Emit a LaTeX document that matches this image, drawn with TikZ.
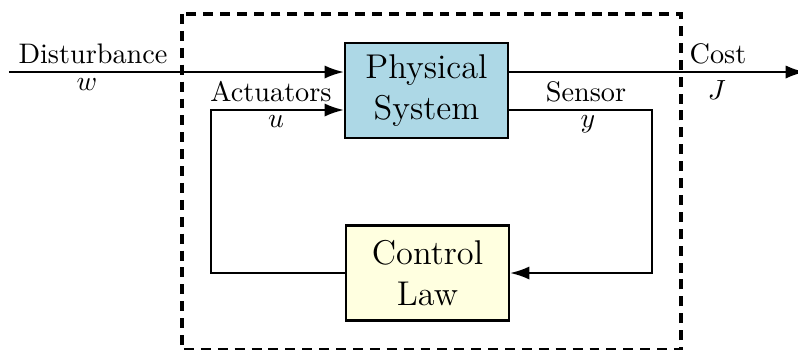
\documentclass[tikz,border=0pt]{standalone}
\usetikzlibrary{arrows.meta}
\definecolor{plantblue}{HTML}{ADD8E6}
\definecolor{lawyellow}{HTML}{FFFFE0}
\tikzset{
  blockbox/.style={draw, line width=0.8pt, minimum width=163*0.361pt, minimum height=95*0.361pt,
    inner sep=0pt, align=center, font=\fontsize{12.4}{15}\selectfont},
  sig/.style={line width=0.8pt, -{Latex[length=7pt,width=4.8pt]}},
  lbl/.style={anchor=base, inner sep=0pt, font=\fontsize{10.2}{12}\selectfont},
  frame/.style={line width=1.2pt, dash pattern=on 3.6pt off 2.5pt}
}
\begin{document}
\begin{tikzpicture}[x=0.361pt, y=-0.361pt]
  \useasboundingbox (0,0) rectangle (798,349);

  % controller boundary
  \draw[frame] (182,14) rectangle (681,350);

  % blocks
  \node[blockbox, fill=plantblue] (plant) at (426.5,90.5) {Physical\\System};
  \node[blockbox, fill=lawyellow] (law) at (427.5,273) {Control\\Law};

  % signal corners
  \coordinate (din) at (9,72);
  \coordinate (jout) at (805,72);
  \coordinate (ucorner) at (211,110);
  \coordinate (ubottom) at (211,273);
  \coordinate (ycorner) at (652,110);
  \coordinate (ybottom) at (652,273);

  % disturbance in, cost out
  \draw[sig] (din) -- (din -| plant.west);
  \draw[sig] (din -| plant.east) -- (jout);

  % feedback loop
  \draw[sig] (law.west) -- (ubottom) -- (ucorner) -- (ucorner -| plant.west);
  \draw[sig] (ycorner -| plant.east) -- (ycorner) -- (ybottom) -- (law.east);

  % labels
  \node[lbl] (ldist) at (93,63) {Disturbance};
  \node[lbl] (lw) at (87,90) {$w$};
  \node[lbl] (lact) at (271,101) {Actuators};
  \node[lbl] (lu) at (276,127) {$u$};
  \node[lbl] (lsens) at (586,101) {Sensor};
  \node[lbl] (ly) at (588,127) {$y$};
  \node[lbl] (lcost) at (718,63) {Cost};
  \node[lbl] (lJ) at (717,99) {$J$};
\end{tikzpicture}
\end{document}
